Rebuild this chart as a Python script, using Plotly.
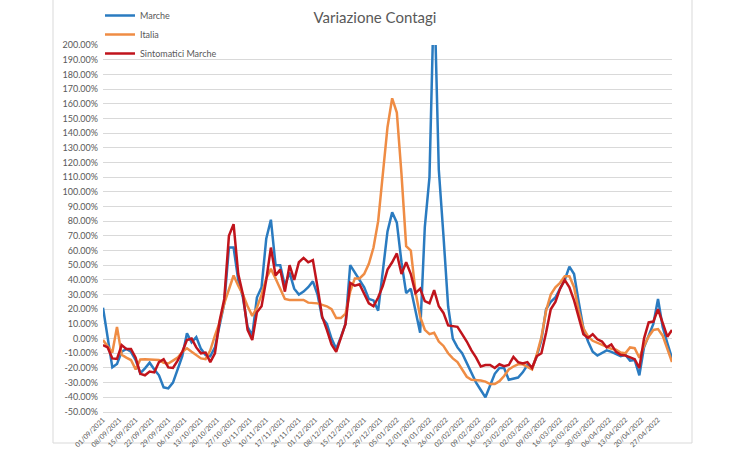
import numpy as np
import pandas as pd
import plotly.graph_objects as go

# ---- data (percent values, one value every 2 days from 01/09/2021) ----
start_date = "2021-09-01"
marche = [
    21, -1, -19.6, -17.3, -9, -7, -9, -14.6, -23.5, -20.3,
    -16.4, -21, -25, -33.2, -33.9, -30, -21, -12, 3.6, -2.5,
    1, -7, -11.2, -12, -6, 8, 24, 62, 62, 40,
    28, 8, 2, 28, 35, 68, 81, 50, 50, 36,
    45, 34, 30, 32, 35, 39, 30, 14, 10, 0,
    -7, 1, 10, 50, 45, 40, 35, 27, 26, 19,
    45, 73, 86, 79, 52, 31, 34, 20, 4, 76,
    110, 240, 115, 70, 22, 0, -6, -10, -17, -24,
    -30, -35, -40, -32, -24, -20, -20, -28, -27.5, -26.5,
    -23, -18, -20, -12, -1, 20, 25, 28, 34, 40,
    49, 44, 25, 7, -2, -9, -11.5, -10, -8, -9,
    -10.5, -12, -11, -15, -14.5, -25, -6, 2.5, 10, 27,
    8, -3, -13.4,
]
italia = [
    -1, -5.5, -9.5, 8, -11, -13, -14.6, -21, -14.2, -14.1,
    -14.1, -14, -14.5, -16.5, -17, -15, -13, -9, -6.6, -9,
    -11, -13.5, -14, -8, 2, 11, 24, 33, 43, 36,
    30, 22, 15.5, 21, 30, 41, 47.5, 41, 34, 27,
    26.3, 26.3, 26.5, 26.3, 24.5, 24.5, 24, 23, 22, 20,
    14, 14, 17, 32, 41, 41, 44, 51, 62, 80,
    110, 144, 163.7, 154, 112, 63, 60, 32, 15, 6,
    3, 4, -2, -5, -10, -13.5, -16, -21, -26, -28,
    -28.2, -28.5, -29.3, -31, -31, -29, -25.5, -21, -19, -17.5,
    -17.5, -19, -21, -11, 1, 19, 30, 35, 38, 42.5,
    42.5, 35, 19, 7, 1.5, -1.5, -3, -4.3, -6, -7,
    -7.5, -9.5, -10, -6, -6.5, -13, -5, 1.5, 5.9, 6.5,
    2, -7.7, -16,
]
sintomatici = [
    -4.4, -6, -13.5, -13.8, -4.4, -7, -7, -13, -24, -25,
    -22.5, -23, -16, -14, -19.6, -20, -15, -9, -1, 0,
    -6, -10, -9.5, -16, -10, 12, 27, 70, 78, 44,
    30, 6, -1, 18, 22, 40, 62, 43, 47, 32,
    50, 40, 52, 55, 52, 53.5, 35, 15, 6, -4,
    -9, 1, 10, 38, 36, 37, 31, 24, 22, 28,
    36, 47, 52, 58, 44, 52, 44, 31, 34, 25.5,
    24, 33, 22, 17.5, 9, 8.5, 8, 3, -2, -8,
    -13, -19, -18, -18, -20, -17.5, -18.8, -18, -12.5, -16,
    -17, -16, -20, -12, -10, 4, 20, 25, 34, 40,
    35, 26, 15, 3, 0.5, 3, -0.5, -2, -6, -4,
    -9, -11, -11.5, -12.5, -14, -20, 0, 11, 11.6, 20,
    11, 1.3, 5.9,
]
y_tick_values = list(range(-50, 201, 10))
y_tick_labels = [f"{v:.2f}%" for v in y_tick_values]

series = [
    ("Marche", marche, "#2a7bc0"),
    ("Italia", italia, "#ef8c44"),
    ("Sintomatici Marche", sintomatici, "#c0141c"),
]

# ---- figure ----
W, H = 750, 450
ML, MR, MT, MB = 103, 78, 45, 38
PW, PH = W - ML - MR, H - MT - MB

def px_x(p):
    return (p - ML) / PW

def px_y(p):
    return (H - MB - p) / PH

fig = go.Figure()
for name, vals, color in series:
    dates = pd.date_range(start_date, periods=len(vals), freq="2D")
    fig.add_trace(go.Scatter(
        x=dates, y=np.array(vals, dtype=float) / 100.0,
        mode="lines", name=name,
        line=dict(color=color, width=2.5),
    ))

end_date = pd.date_range(start_date, periods=len(marche), freq="2D")[-1]
txt = "#595959"
font_family = "Lato, 'Open Sans', sans-serif"

fig.update_layout(
    width=W, height=H,
    margin=dict(l=ML, r=MR, t=MT, b=MB, autoexpand=False),
    paper_bgcolor="white", plot_bgcolor="white",
    font=dict(family=font_family, color=txt),
    title=dict(text="Variazione Contagi", x=0.5, xref="container", xanchor="center",
               y=1 - 18 / H, yref="container", yanchor="middle",
               font=dict(size=15, color=txt, family=font_family)),
    showlegend=True,
    legend=dict(x=px_x(100), y=px_y(1), xanchor="left", yanchor="top",
                bgcolor="rgba(0,0,0,0)", font=dict(size=9, color=txt),
                tracegroupgap=0, itemwidth=30),
    xaxis=dict(type="date", range=[pd.Timestamp(start_date), end_date],
               tick0=start_date, dtick=7 * 86400000, tickformat="%d/%m/%Y",
               tickangle=-45, tickfont=dict(size=7, color=txt),
               showgrid=False, zeroline=False, showline=True,
               linecolor="#d9d9d9", ticks="", automargin=False),
    yaxis=dict(range=[-0.5, 2.0], tickvals=[v / 100 for v in y_tick_values],
               ticktext=y_tick_labels, tickfont=dict(size=9, color=txt),
               showgrid=True, gridcolor="#d9d9d9", gridwidth=1,
               zeroline=False, showline=False, ticks="", ticklabelstandoff=4,
               automargin=False),
    shapes=[dict(type="rect", xref="paper", yref="paper",
                 x0=px_x(53), x1=px_x(692), y0=px_y(443), y1=px_y(-2),
                 line=dict(color="#d9d9d9", width=1), fillcolor="rgba(0,0,0,0)",
                 layer="below")],
)

fig.write_html("out.html")
